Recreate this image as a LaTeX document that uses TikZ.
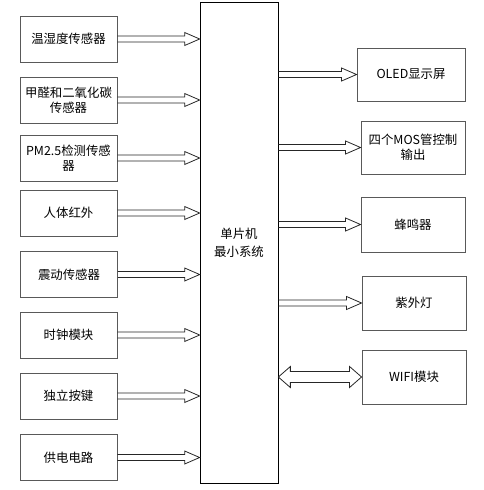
\documentclass[tikz,border=0pt]{standalone}
\usepackage{fontspec}
\setmainfont{Noto Sans CJK SC}
\usetikzlibrary{calc}
\tikzset{
 box/.style={draw=black!65, line width=0.9pt, rectangle, inner sep=0pt, align=center, text=black, font=\fontsize{12.4}{15}\selectfont},
 lbox/.style={box, minimum width=97pt, minimum height=46pt},
 mainbox/.style={draw=black, line width=0.7pt, rectangle, inner sep=0pt, align=center, font=\fontsize{12.4}{18}\selectfont},
 arrowline/.style={draw=black!85, line width=0.8pt, line join=miter},
}
\newcommand{\inarrow}[2]{\draw[arrowline] let \p1=(#1.east), \p2=(#2.west |- #1.east) in
 (\x1,{\y1+3pt}) -- ({\x2-15pt},{\y1+3pt}) -- ({\x2-15pt},{\y1+6.5pt}) -- (\x2,\y1) -- ({\x2-15pt},{\y1-6.5pt}) -- ({\x2-15pt},{\y1-3pt}) -- (\x1,{\y1-3pt});}
\newcommand{\outarrow}[2]{\draw[arrowline] let \p1=(#1.east |- #2.west), \p2=(#2.west) in
 (\x1,{\y1+3pt}) -- ({\x2-15pt},{\y1+3pt}) -- ({\x2-15pt},{\y1+6.5pt}) -- (\x2,\y1) -- ({\x2-15pt},{\y1-6.5pt}) -- ({\x2-15pt},{\y1-3pt}) -- (\x1,{\y1-3pt});}
\begin{document}
\begin{tikzpicture}[x=1pt,y=-1pt]
\useasboundingbox (0,0) rectangle (484,490);
% main box
\node[mainbox, minimum width=78pt, minimum height=481pt] (mcu) at (239,242.5) {单片机\\最小系统};
% left boxes
\node[lbox] (t1) at (68.5,39) {温湿度传感器};
\node[lbox] (t2) at (68.5,100) {甲醛和二氧化碳\\传感器};
\node[lbox] (t3) at (68.5,158) {PM2.5检测传感\\器};
\node[lbox] (t4) at (68.5,213) {人体红外};
\node[lbox] (t5) at (69,274.5) {震动传感器};
\node[lbox] (t6) at (68.5,335) {时钟模块};
\node[lbox] (t7) at (68.5,396) {独立按键};
\node[lbox] (t8) at (68.5,457.5) {供电电路};
% right boxes
\node[box, minimum width=108pt, minimum height=53pt] (r1) at (411,74.5) {OLED显示屏};
\node[box, minimum width=104pt, minimum height=53pt] (r2) at (413,147.5) {四个MOS管控制\\输出};
\node[box, minimum width=104pt, minimum height=55pt] (r3) at (413,224.5) {蜂鸣器};
\node[box, minimum width=104pt, minimum height=54pt] (r4) at (414,303) {紫外灯};
\node[box, minimum width=104pt, minimum height=54pt] (r5) at (414,377) {WIFI模块};
% input arrows
\inarrow{t1}{mcu}
\inarrow{t2}{mcu}
\inarrow{t3}{mcu}
\inarrow{t4}{mcu}
\inarrow{t5}{mcu}
\inarrow{t6}{mcu}
\inarrow{t7}{mcu}
\inarrow{t8}{mcu}
% output arrows
\outarrow{mcu}{r1}
\outarrow{mcu}{r2}
\outarrow{mcu}{r3}
\outarrow{mcu}{r4}
% bidirectional
\draw[arrowline] let \p1=(mcu.east |- r5.west), \p2=(r5.west) in
 (\x1,\y1) -- ({\x1+12pt},{\y1+10.5pt}) -- ({\x1+12pt},{\y1+5.5pt}) -- ({\x2-12pt},{\y1+5.5pt}) -- ({\x2-12pt},{\y1+10.5pt}) -- (\x2,\y1) -- ({\x2-12pt},{\y1-10.5pt}) -- ({\x2-12pt},{\y1-5.5pt}) -- ({\x1+12pt},{\y1-5.5pt}) -- ({\x1+12pt},{\y1-10.5pt}) -- cycle;
\end{tikzpicture}
\end{document}
